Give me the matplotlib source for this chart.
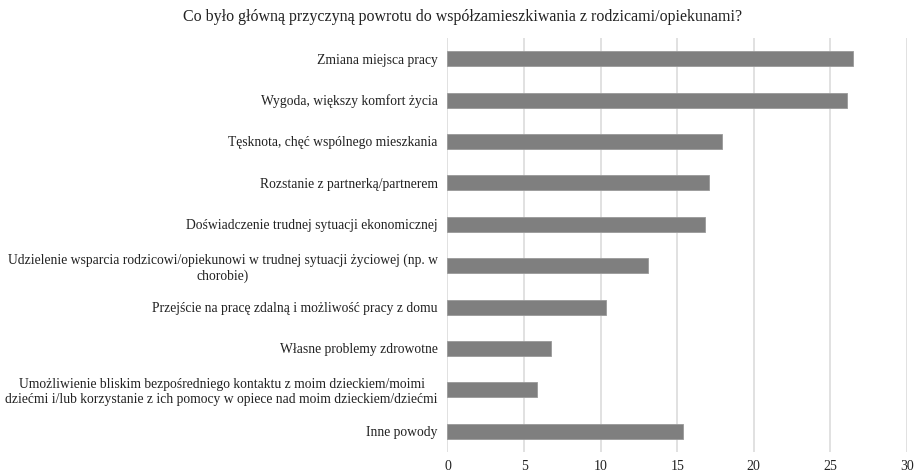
import matplotlib.pyplot as plt

plt.rcParams['font.family'] = ['Liberation Serif', 'DejaVu Serif']

categories = [
    "Zmiana miejsca pracy",
    "Wygoda, większy komfort życia",
    "Tęsknota, chęć wspólnego mieszkania",
    "Rozstanie z partnerką/partnerem",
    "Doświadczenie trudnej sytuacji ekonomicznej",
    "Udzielenie wsparcia rodzicowi/opiekunowi w trudnej sytuacji życiowej (np. w\nchorobie)",
    "Przejście na pracę zdalną i możliwość pracy z domu",
    "Własne problemy zdrowotne",
    "Umożliwienie bliskim bezpośredniego kontaktu z moim dzieckiem/moimi\ndziećmi i/lub korzystanie z ich pomocy w opiece nad moim dzieckiem/dziećmi",
    "Inne powody",
]
values = [26.5, 26.1, 17.9, 17.05, 16.8, 13.1, 10.35, 6.75, 5.85, 15.35]
x_ticks = [0, 5, 10, 15, 20, 25, 30]

fig = plt.figure(figsize=(9.14, 4.73), dpi=100)
ax = fig.add_axes([0.4896, 0.0444, 0.5027, 0.8753])

pos = list(range(len(categories)))
ax.barh(pos, values, height=0.36, color="#7f7f7f", edgecolor="#9a9a9a", linewidth=0.6, zorder=3)

ax.set_xlim(0, 30)
ax.set_ylim(len(categories) - 0.5, -0.5)
ax.set_xticks(x_ticks)
ax.set_yticks(pos)
ax.set_yticklabels(categories, multialignment="center", fontsize=9.8)
ax.tick_params(axis="both", length=0, colors="#222222")
ax.tick_params(axis="x", labelsize=10, pad=6)
ax.tick_params(axis="y", pad=7)

ax.grid(axis="x", color="#dcdcdc", linewidth=1.2, zorder=0)
for s in ax.spines.values():
    s.set_visible(False)

fig.text(0.506, 0.965, "Co było główną przyczyną powrotu do współzamieszkiwania z rodzicami/opiekunami?",
         ha="center", va="center", fontsize=11.5, color="#222222")

fig.savefig("out.png", dpi=100)
plt.close()
